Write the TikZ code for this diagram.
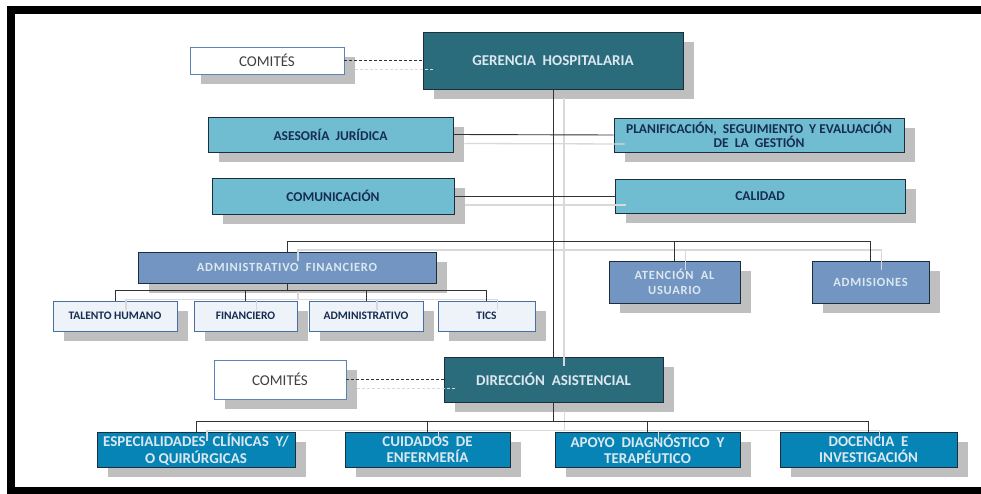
\documentclass[tikz,border=0pt]{standalone}
\usepackage{fontspec}
\setmainfont{Carlito}
\usepackage{tikz}
\usetikzlibrary{shadows}

\definecolor{gerteal}{RGB}{42,107,124}
\definecolor{staffblue}{RGB}{112,189,210}
\definecolor{unitsteel}{RGB}{115,149,193}
\definecolor{subpale}{RGB}{238,242,249}
\definecolor{careblue}{RGB}{6,132,182}
\definecolor{boxline}{RGB}{30,45,60}
\definecolor{subline}{RGB}{74,111,165}
\definecolor{comline}{RGB}{91,131,181}
\definecolor{navytext}{RGB}{23,45,80}
\definecolor{paletext}{RGB}{220,232,240}
\definecolor{shadegray}{RGB}{191,191,191}
\definecolor{wiredark}{RGB}{50,50,50}
\definecolor{wirelight}{RGB}{217,217,217}

% connectors, drawn once as shadow and once on top
\newcommand{\orgwires}{
  \draw[dashwire] (comA.east) -- (ger.west);
  \draw[dashwire] (comB.east) -- (dir.west);
  \draw[wire] (ase.east) -- (plan.west);
  \draw[wire] (com.east) -- (cal.west);
  \draw[wire] (ger.south) -- (ger.south |- dir.north);
  \coordinate (busA) at (554,241);
  \foreach \n in {adm,ate,admis} \draw[wire] (busA) -| (\n.north);
  \draw[wire] (adm.south) -- ++(0,7) coordinate (busS);
  \foreach \n in {tal,fin,admv,tics} \draw[wire] (busS) -| (\n.north);
  \draw[wire] (dir.south) -- ++(0,19) coordinate (busB);
  \foreach \n in {esp,cui,apo,doc} \draw[wire] (busB) -| (\n.north);
}

\begin{document}
\begin{tikzpicture}[x=1pt, y=-1pt,
    box/.style={draw=boxline, line width=0.8pt, align=center, inner sep=1pt,
      drop shadow={shadow xshift=11pt, shadow yshift=-10pt, fill=shadegray, opacity=1}},
    topbox/.style={box, fill=gerteal, text=paletext, font=\bfseries\fontsize{15}{16}\selectfont},
    staffbox/.style={box, fill=staffblue, text=navytext, font=\bfseries\fontsize{13.5}{14}\selectfont},
    unitbox/.style={box, fill=unitsteel, text=paletext, font=\bfseries\fontsize{12.5}{15}\selectfont\addfontfeature{LetterSpace=6}},
    subbox/.style={box, draw=subline, fill=subpale, text=navytext, font=\bfseries\fontsize{11.5}{13}\selectfont},
    combox/.style={box, draw=comline, fill=white, text=black!75, font=\fontsize{15}{16}\selectfont},
    carebox/.style={box, fill=careblue, text=paletext, font=\bfseries\fontsize{15}{16.5}\selectfont},
    wire/.style={draw=wiredark, line width=0.9pt},
    dashwire/.style={draw=wiredark, line width=0.8pt, dash pattern=on 3pt off 2pt}]
  \useasboundingbox (0,0) rectangle (981,494);

  \node[combox, minimum width=154pt, minimum height=27pt] (comA) at (267,60.5) {COMITÉS};
  \node[topbox, minimum width=260pt, minimum height=57pt] (ger) at (553,60.5) {GERENCIA\ \ HOSPITALARIA};

  \node[staffbox, minimum width=245pt, minimum height=35pt] (ase) at (330.5,134.5) {ASESORÍA\ \ JURÍDICA};
  \node[staffbox, minimum width=290pt, minimum height=34pt] (plan) at (759,135) {PLANIFICACIÓN,\ \ SEGUIMIENTO\ \ Y EVALUACIÓN\\DE\ \ LA\ \ GESTIÓN};
  \node[staffbox, minimum width=242pt, minimum height=36pt] (com) at (333,196) {COMUNICACIÓN};
  \node[staffbox, minimum width=290pt, minimum height=34pt] (cal) at (760,196) {CALIDAD};

  \node[unitbox, minimum width=298pt, minimum height=31pt] (adm) at (287,267.5) {ADMINISTRATIVO\ \ FINANCIERO};
  \node[unitbox, minimum width=131pt, minimum height=42pt] (ate) at (674.5,282) {ATENCIÓN\ \ AL\\USUARIO};
  \node[unitbox, minimum width=117pt, minimum height=42pt] (admis) at (870.5,282) {ADMISIONES};

  \node[subbox, minimum width=124pt, minimum height=30pt] (tal) at (115,316) {TALENTO HUMANO};
  \node[subbox, minimum width=103pt, minimum height=30pt] (fin) at (245.5,316) {FINANCIERO};
  \node[subbox, minimum width=114pt, minimum height=30pt] (admv) at (366,316) {ADMINISTRATIVO};
  \node[subbox, minimum width=97pt, minimum height=30pt] (tics) at (486.5,316) {TICS};

  \node[combox, minimum width=132pt, minimum height=39pt] (comB) at (280,379.5) {COMITÉS};
  \node[topbox, minimum width=219pt, minimum height=45pt] (dir) at (553.5,379.5) {DIRECCIÓN\ \ ASISTENCIAL};

  \node[carebox, minimum width=198pt, minimum height=35pt] (esp) at (196,449.5) {ESPECIALIDADES\ \ CLÍNICAS\ \ Y/\\O QUIRÚRGICAS};
  \node[carebox, minimum width=165pt, minimum height=35pt] (cui) at (427.5,449.5) {CUIDADOS\ \ DE\\ENFERMERÍA};
  \node[carebox, minimum width=185pt, minimum height=35pt] (apo) at (647.5,449.5) {APOYO\ \ DIAGNÓSTICO\ \ Y\\TERAPÉUTICO};
  \node[carebox, minimum width=177pt, minimum height=35pt] (doc) at (868.5,449.5) {DOCENCIA\ \ E\\INVESTIGACIÓN};

  \begin{scope}[transform canvas={shift={(11pt,-9pt)}},
      wire/.style={draw=wirelight, line width=1.3pt},
      dashwire/.style={draw=wirelight, line width=1.1pt, dash pattern=on 3pt off 2pt}]
    \orgwires
  \end{scope}
  \orgwires

  % frame, open on the right
  \draw[line width=8pt] (981,10) -- (11,10) -- (11,491) -- (981,491);
\end{tikzpicture}
\end{document}
